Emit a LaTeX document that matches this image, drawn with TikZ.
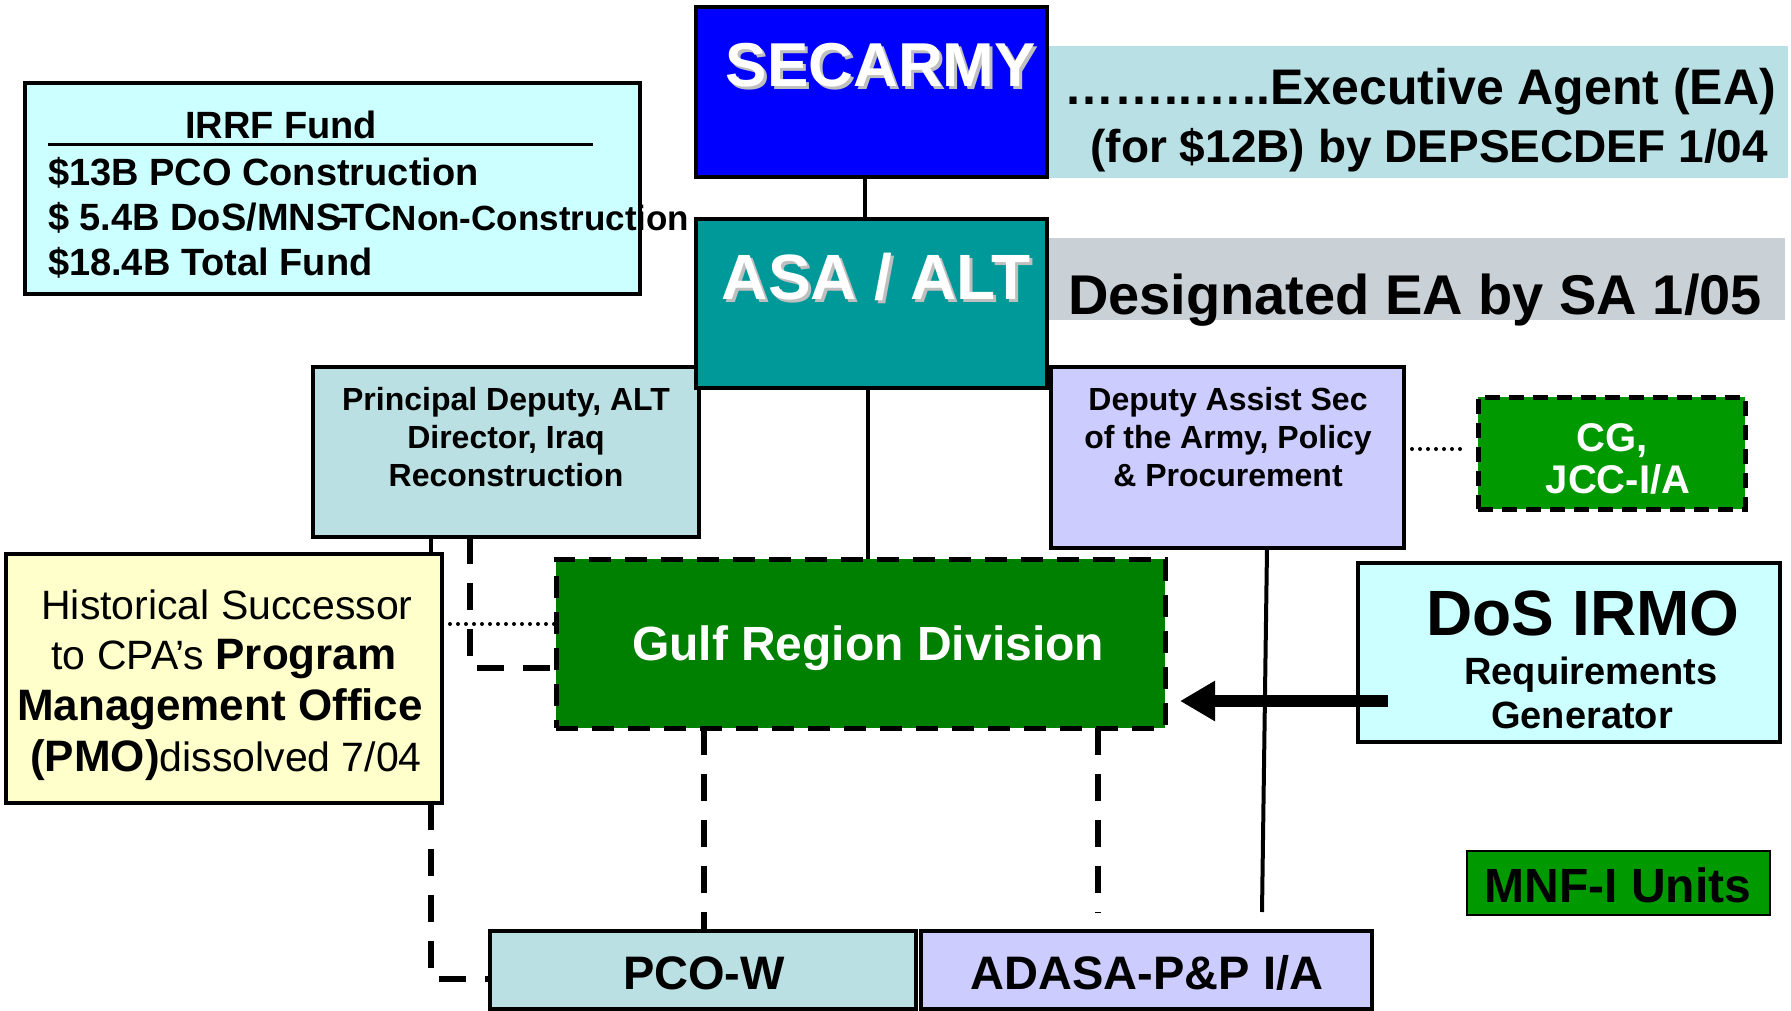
\documentclass[tikz,border=0pt]{standalone}
\usepackage{fontspec}
\setmainfont{Liberation Sans}
\usetikzlibrary{arrows.meta}
\definecolor{secblue}{RGB}{0,0,255}
\definecolor{bandA}{RGB}{185,224,228}
\definecolor{tealc}{RGB}{0,153,153}
\definecolor{bandB}{RGB}{201,208,214}
\definecolor{irrfc}{RGB}{204,255,255}
\definecolor{pdc}{RGB}{187,224,227}
\definecolor{dasc}{RGB}{204,204,255}
\definecolor{cgg}{RGB}{0,153,0}
\definecolor{grdg}{RGB}{0,128,0}
\definecolor{histc}{RGB}{255,255,204}
\newcommand\myfs[1]{\fontsize{#1}{#1}\selectfont}
\begin{document}
\begin{tikzpicture}[x=1pt,y=-1pt,
  box/.style={draw=black, line width=3.5pt, inner sep=0pt, outer sep=0pt, anchor=north west},
  band/.style={inner sep=0pt, outer sep=0pt, anchor=north west},
  dbox/.style={box, line width=5pt, dash pattern=on 22pt off 14pt},
  cgbox/.style={box, line width=5pt, dash pattern=on 15pt off 9pt},
  txt/.style={inner sep=0pt, outer sep=0pt, anchor=base},
  solidc/.style={line width=4pt},
  dashc/.style={line width=6pt, dash pattern=on 27pt off 19pt},
  dotc/.style={line width=4pt, line cap=round, dash pattern=on 0pt off 8pt},
  arr/.style={line width=12pt, -{Triangle[length=35pt, width=38pt]}}
]
\useasboundingbox (0,0) rectangle (1791,1011);
\fill[white] (0,0) rectangle (1791,1011);

% connector anchors
\coordinate (xa) at (431,979);
\coordinate (xb) at (470,668);
\coordinate (yc) at (0,624);
\coordinate (xd) at (704,0);
\coordinate (ade) at (1098,913);
\coordinate (dse) at (1262,912);
\coordinate (cgd) at (1464,449);
\coordinate (as) at (1388,701);

% bands
\node[band, fill=bandA, minimum width=741pt, minimum height=132pt] (bandA) at (1047,46) {};
\node[band, fill=bandB, minimum width=738pt, minimum height=82pt] (bandB) at (1047,238) {};

% boxes
\node[box, fill=secblue, minimum width=351pt, minimum height=170pt] (sec) at (696,7) {};
\node[box, fill=irrfc, minimum width=615pt, minimum height=211pt] (irrf) at (25,83) {};
\node[box, fill=pdc, minimum width=386pt, minimum height=170pt] (pd) at (313,367) {};
\node[box, fill=tealc, minimum width=351pt, minimum height=169pt] (asa) at (696,219) {};
\node[box, fill=dasc, minimum width=353pt, minimum height=181pt] (das) at (1051,367) {};
\node[cgbox, fill=cgg, minimum width=267pt, minimum height=112pt] (cg) at (1478,397) {};
\node[box, fill=histc, minimum width=436pt, minimum height=249pt] (hist) at (6,554) {};
\node[dbox, fill=grdg, minimum width=609pt, minimum height=169pt] (grd) at (556,559) {};
\node[box, fill=irrfc, minimum width=422pt, minimum height=179pt] (dos) at (1358,563) {};
\node[box, line width=2.5pt, fill=cgg, minimum width=303pt, minimum height=64pt] (mnf) at (1467,851) {};
\node[box, fill=pdc, minimum width=426pt, minimum height=78pt] (pco) at (490,931) {};
\node[box, fill=dasc, minimum width=451pt, minimum height=78pt] (ada) at (921,931) {};

% connectors
\draw[solidc] ([xshift=-6.5pt]sec.south) -- ([xshift=-6.5pt]asa.north);
\draw[solidc] ([xshift=-3.5pt]asa.south) -- ([xshift=-3.5pt]asa.south |- grd.north);
\draw[solidc] (pd.south -| xa) -- (hist.north -| xa);
\draw[dashc] (hist.south -| xa) -- (xa) -- (pco.west |- xa);
\draw[dashc] (pd.south -| xb) |- (grd.west |- xb);
\draw[dotc] (hist.east |- yc) -- (grd.west |- yc);
\draw[dashc] (grd.south -| xd) -- (pco.north -| xd);
\draw[dashc] (grd.south -| ade) -- (ade);
\draw[solidc] ([xshift=39.5pt]das.south) -- (dse);
\draw[dotc] (das.east |- cgd) -- (cgd);
\draw[arr] (as) -- ([xshift=15pt]grd.east |- as);

% texts
\node[txt, text=black!25, font={\myfs{62}\bfseries}] (secsh) at (884,90) {SECARMY};
\node[txt, text=white, font={\myfs{62}\bfseries}] (sect) at (881,87) {SECARMY};
\node[txt, text=black!25, font={\myfs{64}\bfseries}] (asash) at (879,302) {ASA / ALT};
\node[txt, text=white, font={\myfs{64}\bfseries}] (asat) at (876,299) {ASA / ALT};

\node[txt, anchor=base east, font={\myfs{50}\bfseries}] (ea1) at (1776,105) {……..…..Executive Agent (EA)};
\node[txt, anchor=base east, font={\myfs{46}\bfseries}] (ea2) at (1768,163) {(for \$12B) by DEPSECDEF 1/04};
\node[txt, anchor=base west, font={\myfs{56}\bfseries}] (dea) at (1068,314) {Designated EA by SA 1/05};

\node[txt, anchor=base west, font={\myfs{38}\bfseries}] (irt) at (185,139) {IRRF Fund};
\draw[line width=3pt] (48,145) -- (593,145);
\node[txt, anchor=base west, font={\myfs{38}\bfseries}] (ir1) at (48,186) {\$13B PCO Construction};
\node[txt, anchor=base west, font={\myfs{38}\bfseries}] (ir2) at (48,231) {\$ 5.4B DoS/MNS\kern-.12em-\kern-.22em TC{\myfs{35}Non-Construction}};
\node[txt, anchor=base west, font={\myfs{38}\bfseries}] (ir3) at (48,275) {\$18.4B Total Fund};

\node[txt, font={\myfs{32}\bfseries}] (pd1) at (506,410) {Principal Deputy, ALT};
\node[txt, font={\myfs{32}\bfseries}] (pd2) at (506,448) {Director, Iraq};
\node[txt, font={\myfs{32}\bfseries}] (pd3) at (506,486) {Reconstruction};

\node[txt, font={\myfs{32}\bfseries}] (da1) at (1228,410) {Deputy Assist Sec};
\node[txt, font={\myfs{32}\bfseries}] (da2) at (1228,448) {of the Army, Policy};
\node[txt, font={\myfs{32}\bfseries}] (da3) at (1228,486) {\& Procurement};

\node[txt, text=white, font={\myfs{40}\bfseries}] (cg1) at (1612,451) {CG,};
\node[txt, text=white, font={\myfs{40}\bfseries}] (cg2) at (1618,493) {JCC-I/A};

\node[txt, text=white, font={\myfs{48}\bfseries}] (grdt) at (868,660) {Gulf Region Division};

\node[txt, font={\myfs{64}\bfseries}] (dos1) at (1583,635) {DoS IRMO};
\node[txt, font={\myfs{38}\bfseries}] (dos2) at (1591,684) {Requirements};
\node[txt, font={\myfs{38}\bfseries}] (dos3) at (1582,728) {Generator};

\node[txt, font={\myfs{41}}] (h1) at (227,619) {Historical Successor};
\node[txt, font={\myfs{41}}] (h2) at (224,669) {to CPA’s {\bfseries\myfs{44}Program}};
\node[txt, font={\myfs{44}\bfseries}] (h3) at (220,720) {Management Office};
\node[txt, font={\myfs{41}}] (h4) at (226,771) {{\bfseries\myfs{44}(PMO)}dissolved 7/04};

\node[txt, font={\myfs{48}\bfseries}] (mnft) at (1618,902) {MNF-I Units};
\node[txt, font={\myfs{47}\bfseries}] (pcot) at (704,989) {PCO-W};
\node[txt, font={\myfs{47}\bfseries}] (adat) at (1147,989) {ADASA-P\&P I/A};
\end{tikzpicture}
\end{document}
